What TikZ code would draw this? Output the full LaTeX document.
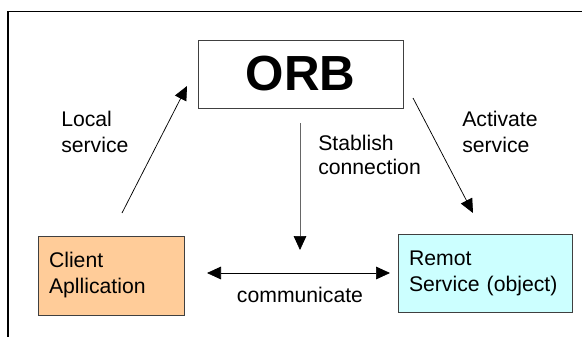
\documentclass[tikz,border=0pt]{standalone}
\usepackage{fontspec}
\setmainfont{Liberation Sans}
\usetikzlibrary{arrows.meta}
\definecolor{clientfill}{HTML}{FFCC99}
\definecolor{remotefill}{HTML}{CCFFFF}

\begin{document}
\begin{tikzpicture}[x=0.75pt, y=-0.75pt,
  box/.style={draw=black!75, line width=0.6pt, align=left, inner xsep=8.25pt, font=\fontsize{15.9}{19.5}\selectfont},
  lbl/.style={align=left, inner sep=0pt, font=\fontsize{15.9}{19.5}\selectfont},
  tip/.style={-{Triangle[length=10.5pt,width=9.5pt,color=black]}},
  link/.style={line width=0.55pt, tip}]
\useasboundingbox (0,0) rectangle (582,337);
\draw[line width=0.8pt] (582,11.5) -- (8,11.5) -- (8,337);
% boxes
\node[draw=black!75, line width=0.6pt, minimum width=153.75pt, minimum height=51pt, font=\fontsize{37}{40}\selectfont\bfseries] (orb) at (300.5,74) {ORB};
\node[box, fill=clientfill, text width=93pt, minimum height=59.25pt] (client) at (111,275.5) {Client\\Apllication};
\node[box, fill=remotefill, text width=114pt, minimum height=58.5pt] (remote) at (485,273) {Remot\\Service (object)};
% labels
\node[lbl, anchor=north west] (local) at (61,111) {Local\\service};
\node[lbl, anchor=north west] (activate) at (462,111) {Activate\\service};
\node[lbl, anchor=north west] (stablish) at (318,134.5) {Stablish\\[-1.5pt]connection};
\node[lbl, anchor=base] (communicate) at (300,302) {communicate};
% arrow ends
\coordinate (client-up) at (122,213);
\coordinate (orb-in) at (187,86);
\coordinate (orb-out) at (413,98);
\coordinate (remote-in) at (473,213);
\coordinate (orb-down) at (300,123);
\coordinate (link-in) at (300,250);
\coordinate (client-side) at (207,273);
\coordinate (remote-side) at (390,273);
\draw[link] (client-up) -- (orb-in);
\draw[link] (orb-out) -- (remote-in);
\draw[link, draw=black!60] (orb-down) -- (link-in);
\draw[link, {Triangle[length=10.5pt,width=9.5pt]}-{Triangle[length=10.5pt,width=9.5pt]}] (client-side) -- (remote-side);
\end{tikzpicture}
\end{document}
